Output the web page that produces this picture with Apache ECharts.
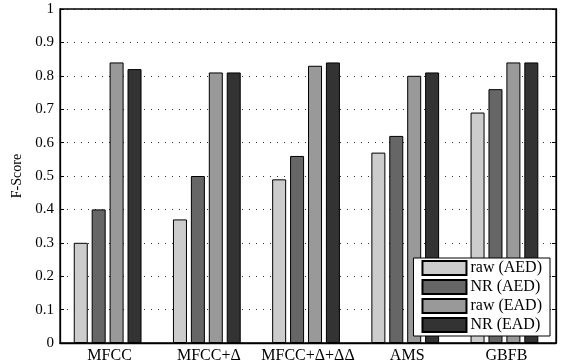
<!DOCTYPE html>
<html><head><meta charset="utf-8">
<script src="https://cdn.jsdelivr.net/npm/echarts@6/dist/echarts.min.js"></script>
<style>html,body{margin:0;padding:0;background:#fff}#c{width:561px;height:364px}</style>
</head><body><div id="c"></div>
<script>
var categories = ['MFCC', 'MFCC+Δ', 'MFCC+Δ+ΔΔ', 'AMS', 'GBFB'];
var seriesNames = ['raw (AED)', 'NR (AED)', 'raw (EAD)', 'NR (EAD)'];
var rawAED = [0.30, 0.37, 0.49, 0.57, 0.69];
var nrAED = [0.40, 0.50, 0.56, 0.62, 0.76];
var rawEAD = [0.84, 0.81, 0.83, 0.80, 0.84];
var nrEAD = [0.82, 0.81, 0.84, 0.81, 0.84];
var yTicks = [0, 0.1, 0.2, 0.3, 0.4, 0.5, 0.6, 0.7, 0.8, 0.9, 1];
var colors = ['#cccccc', '#666666', '#999999', '#333333'];
var values = [rawAED, nrAED, rawEAD, nrEAD];
var font = 'Liberation Serif, DejaVu Serif, serif';

var chart = echarts.init(document.getElementById('c'));
var series = seriesNames.map(function (n, i) {
  return {
    name: n, type: 'bar', data: values[i],
    barWidth: 14, barGap: '28%', barCategoryGap: '31%',
    itemStyle: { color: colors[i], borderColor: '#000', borderWidth: 1 },
    yAxisIndex: 0
  };
});
series.push({ type: 'bar', data: [], yAxisIndex: 1, silent: true });
chart.setOption({
  animation: false,
  backgroundColor: '#fff',
  textStyle: { fontFamily: font },
  grid: { left: 60, right: 5, top: 9, bottom: 21, show: true, borderColor: '#000', borderWidth: 1.3, containLabel: false },
  legend: {
    data: seriesNames, orient: 'vertical', right: 11, bottom: 28,
    backgroundColor: '#fff', borderColor: '#000', borderWidth: 1,
    padding: [2, 8, 3, 8], itemGap: 3, itemWidth: 44, itemHeight: 14,
    icon: 'rect',
    textStyle: { fontFamily: font, fontSize: 16, lineHeight: 16, color: '#000', padding: [0, 0, 0, -1] }
  },
  xAxis: {
    type: 'category', data: categories,
    axisLine: { lineStyle: { color: '#000', width: 1.3 } },
    axisTick: { show: false },
    axisLabel: { color: '#000', fontSize: 16, fontFamily: font, margin: 5, interval: 0 }
  },
  yAxis: [{
    type: 'value', min: 0, max: 1, interval: 0.1,
    name: 'F-Score', nameLocation: 'middle', nameGap: 25, nameRotate: 90,
    nameTextStyle: { color: '#000', fontSize: 14, fontFamily: font },
    axisLine: { show: true, lineStyle: { color: '#000', width: 1.3 } },
    axisTick: { show: true, inside: true, length: 4, lineStyle: { color: '#000' } },
    axisLabel: { color: '#000', fontSize: 15, fontFamily: font, margin: 6,
      formatter: function (v) { return String(Math.round(v * 10) / 10); } },
    splitLine: { show: true, lineStyle: { color: '#000', width: 1, type: [1, 6], opacity: 0.8 } }
  }, {
    type: 'value', min: 0, max: 1, interval: 0.1, position: 'right',
    axisLine: { show: true, lineStyle: { color: '#000', width: 1.3 } },
    axisTick: { show: true, inside: true, length: 4, lineStyle: { color: '#000' } },
    axisLabel: { show: false }, splitLine: { show: false }
  }],
  series: series
});
</script></body></html>
